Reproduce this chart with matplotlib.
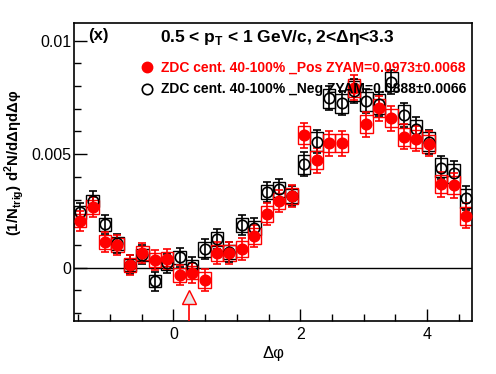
import numpy as np
import matplotlib.pyplot as plt
from matplotlib.patches import Rectangle
from matplotlib.ticker import MultipleLocator

plt.rcParams['font.family'] = ['Liberation Sans', 'DejaVu Sans']
plt.rcParams['mathtext.fontset'] = 'custom'
plt.rcParams['mathtext.rm'] = 'Liberation Sans'
plt.rcParams['mathtext.bf'] = 'Liberation Sans:bold'

nbins = 32
dphi = -np.pi/2 + (np.arange(nbins) + 0.5)*np.pi/16  # bin centres
bw = np.pi/16

# ZDC 40-100% negative side (open black circles), values in units of 1e-3
neg = [2.43, 2.94, 1.91, 1.07, 0.12, 0.56, -0.59, 0.19, 0.46, 0.05, 0.81, 1.26,
       0.69, 1.87, 1.75, 3.33, 3.45, 3.16, 4.56, 5.55, 7.46, 7.24, 7.78, 7.33,
       7.21, 8.18, 6.73, 6.10, 5.54, 4.41, 4.16, 3.06]
neg_err = [0.42]*10 + [0.45]*8 + [0.52]*14
neg_sys = [0.28]*10 + [0.32]*8 + [0.42]*14
# positive side (filled red circles)
pos = [2.07, 2.67, 1.12, 1.00, 0.11, 0.64, 0.33, 0.37, -0.33, -0.22, -0.54, 0.63,
       0.63, 0.82, 1.40, 2.36, 2.94, 3.17, 5.83, 4.74, 5.48, 5.48, 7.92, 6.31,
       7.02, 6.58, 5.77, 5.67, 5.45, 3.67, 3.64, 2.28]
pos_err = [0.44]*10 + [0.48]*8 + [0.55]*14
pos_sys = [0.30]*10 + [0.35]*8 + [0.40]*14

zyam_x = 0.24  # position of the ZYAM minimum

neg = np.array(neg)*1e-3; neg_err = np.array(neg_err)*1e-3; neg_sys = np.array(neg_sys)*1e-3
pos = np.array(pos)*1e-3; pos_err = np.array(pos_err)*1e-3; pos_sys = np.array(pos_sys)*1e-3

fig = plt.figure(figsize=(4.96, 3.74), dpi=100)
ax = fig.add_axes([0.149, 0.1417, 0.803, 0.797])

for y, err, sys, col, face in [(neg, neg_err, neg_sys, 'black', 'none'),
                               (pos, pos_err, pos_sys, 'red', 'red')]:
    for xi, yi, si in zip(dphi, y, sys):
        ax.add_patch(Rectangle((xi - bw/2, yi - si), bw, 2*si, fill=False,
                               edgecolor=col, lw=1.0, zorder=2))
    ax.errorbar(dphi, y, yerr=err, fmt='o', color=col, mfc=face, mec=col,
                ms=7.5, mew=1.2, elinewidth=1.2, capsize=3, capthick=1.2, zorder=3)

ax.axhline(0, color='black', lw=1.0, zorder=1)

# ZYAM arrow
ax.plot([zyam_x, zyam_x], [-0.0024, -0.00152], color='red', lw=1.2, zorder=3)
ax.plot([zyam_x], [-0.00128], marker='^', ms=10, mfc='#e6e6e6', mec='red', mew=1.0,
        ls='none', zorder=4)

ax.set_xlim(-np.pi/2, 3*np.pi/2)
ax.set_ylim(-0.00235, 0.01078)
ax.xaxis.set_major_locator(MultipleLocator(2))
ax.xaxis.set_minor_locator(MultipleLocator(0.5))
ax.yaxis.set_major_locator(MultipleLocator(0.005))
ax.yaxis.set_minor_locator(MultipleLocator(0.001))
ax.set_yticks([0, 0.005, 0.01])
ax.set_yticklabels(['0', '0.005', '0.01'])
ax.tick_params(which='both', direction='in', top=False, right=False, labelsize=11.5, width=1.0)
ax.tick_params(which='major', length=9)
ax.tick_params(axis='y', which='major', pad=2)
ax.tick_params(axis='x', which='major', pad=4)
ax.tick_params(which='minor', length=5)
for s in ax.spines.values():
    s.set_linewidth(1.2)

ax.set_xlabel('Δφ', fontsize=12)
ax.xaxis.set_label_coords(0.5, -0.085)
ax.set_ylabel(r'(1/N$_{\mathbf{trig}}$) d$^{\mathbf{2}}$N/dΔηdΔφ', fontsize=10.8, fontweight='bold')
ax.yaxis.set_label_coords(-0.12, 0.53)

ax.text(0.035, 0.958, '(x)', transform=ax.transAxes, fontsize=12, fontweight='bold', va='center')
ax.text(0.215, 0.952, r'0.5 < p$_{\mathbf{T}}$ < 1 GeV/c, 2<Δη<3.3', transform=ax.transAxes,
        fontsize=12.5, fontweight='bold', va='center')

ax.plot([0.183], [0.851], transform=ax.transAxes, marker='o', ms=7.5, color='red', ls='none')
ax.text(0.218, 0.851, 'ZDC cent. 40-100% _Pos ZYAM=0.0973±0.0068', transform=ax.transAxes,
        fontsize=10, fontweight='bold', color='red', va='center')
ax.plot([0.183], [0.778], transform=ax.transAxes, marker='o', ms=7.5, mfc='none', mec='black',
        mew=1.2, ls='none')
ax.text(0.218, 0.778, 'ZDC cent. 40-100% _Neg ZYAM=0.0888±0.0066', transform=ax.transAxes,
        fontsize=10, fontweight='bold', color='black', va='center', zorder=5)

fig.savefig('out.png', dpi=100)
